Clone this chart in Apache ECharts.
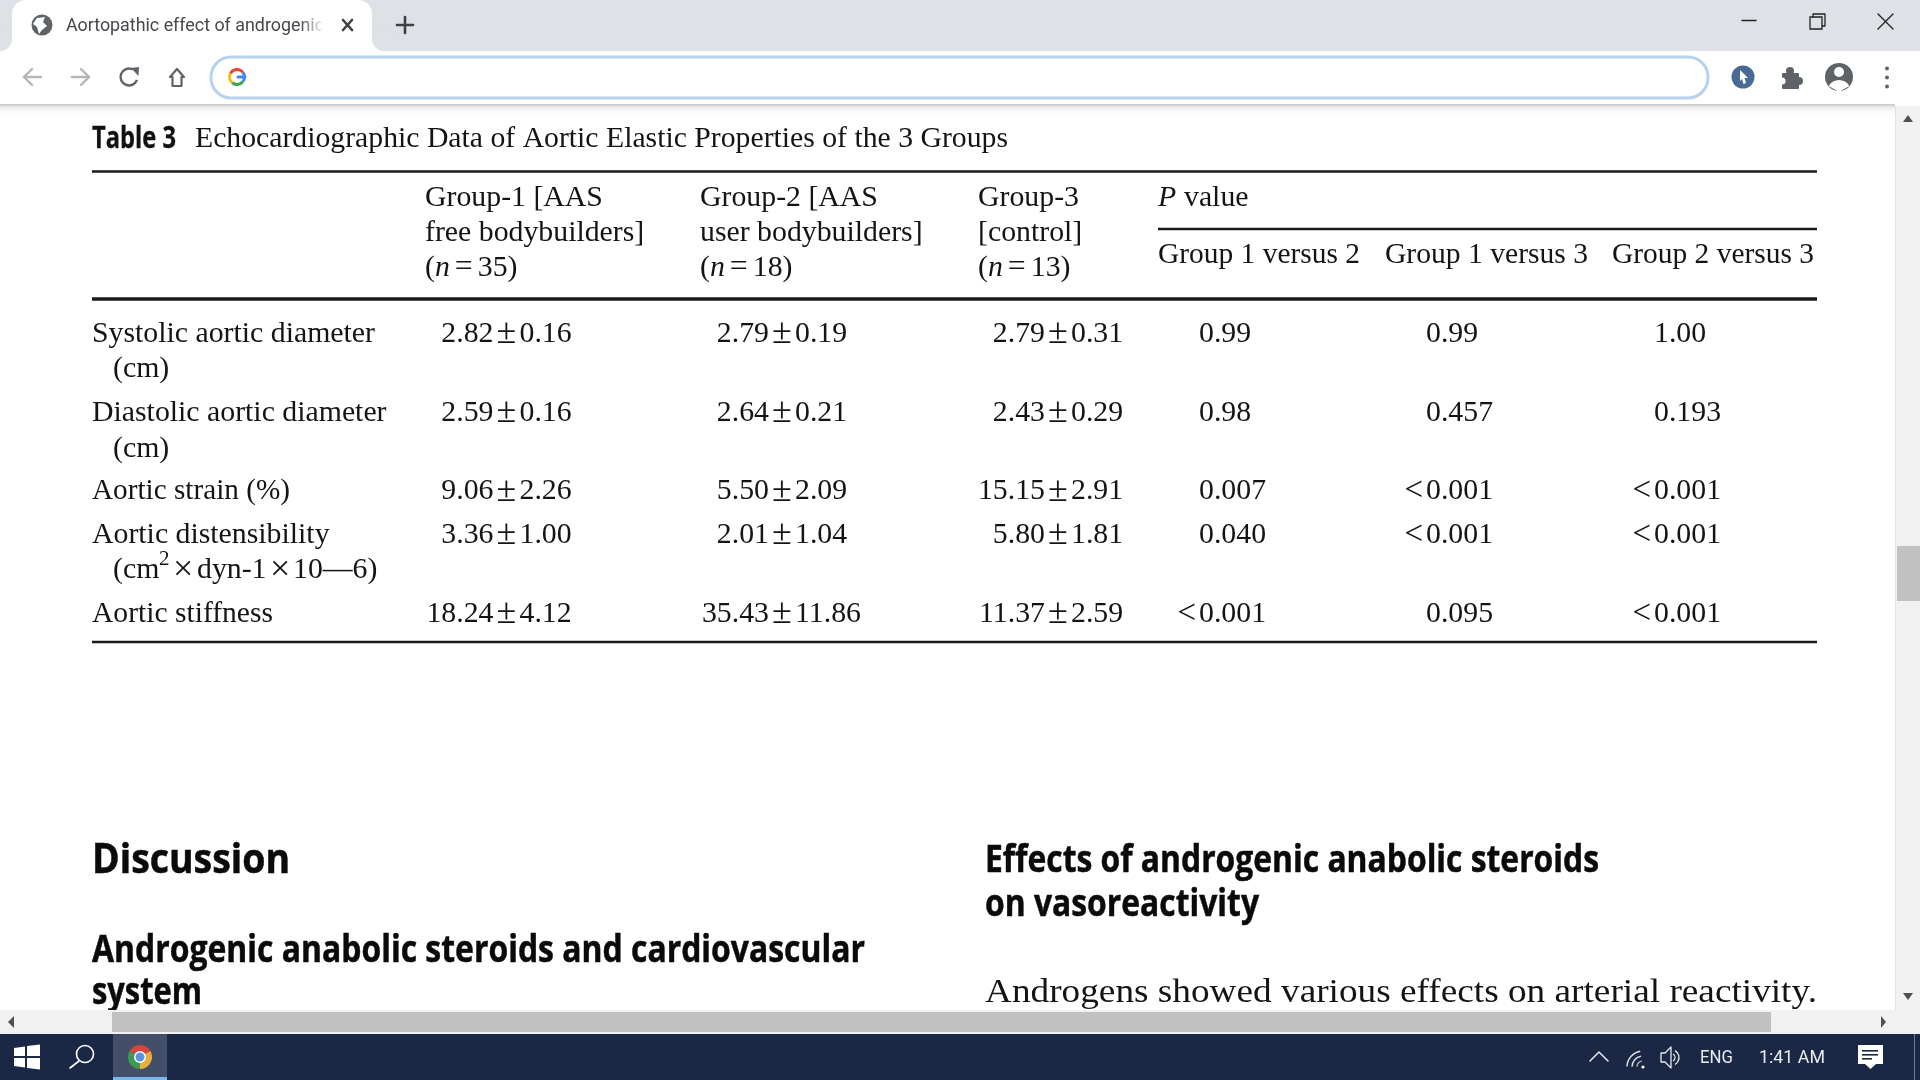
<![CDATA[<!DOCTYPE html>
<html><head><meta charset="utf-8">
<style>html,body{margin:0;padding:0;background:#fff;overflow:hidden}#c{width:1920px;height:1080px}</style>
<script src="https://cdn.jsdelivr.net/npm/echarts@6/dist/echarts.min.js"></script>
</head><body><div id="c"></div>
<script>
// ---- table content ----
const rowLabels = [
  ['Systolic aortic diameter','(cm)'],
  ['Diastolic aortic diameter','(cm)'],
  ['Aortic strain (%)'],
  ['Aortic distensibility',null],
  ['Aortic stiffness']
];
const group1Mean = ['2.82','2.59','9.06','3.36','18.24'];
const group1SD   = ['0.16','0.16','2.26','1.00','4.12'];
const group2Mean = ['2.79','2.64','5.50','2.01','35.43'];
const group2SD   = ['0.19','0.21','2.09','1.04','11.86'];
const group3Mean = ['2.79','2.43','15.15','5.80','11.37'];
const group3SD   = ['0.31','0.29','2.91','1.81','2.59'];
const p12 = ['0.99','0.98','0.007','0.040','<0.001'];
const p13 = ['0.99','0.457','<0.001','<0.001','0.095'];
const p23 = ['1.00','0.193','<0.001','<0.001','<0.001'];
const groupHeads = [
  ['Group-1 [AAS','free bodybuilders]','35'],
  ['Group-2 [AAS','user bodybuilders]','18'],
  ['Group-3','[control]','13']
];
const pHeads = ['Group 1 versus 2','Group 1 versus 3','Group 2 versus 3'];

// ---- layout ----
const SERIF='"Liberation Serif"', SANS='"Open Sans"', UI='Roboto';
const TS=29.8, rowY=[334,413,491.5,535,614], subY=[369.5,449,null,570.5,null];
const labelW=[null,null,198,null,181];
const plusX=[506.5,782,1058], pX=[1199,1426,1654], headX=[425,700,978], pHeadX=[1158,1385,1612];
const cv=document.createElement('canvas').getContext('2d');
function fontStr(o){return `${o.style||'normal'} ${o.weight||'normal'} ${o.size}px ${o.family}`;}
function T(text,x,y,o){
  o=Object.assign({size:TS,family:SERIF,color:'#141414',align:'left'},o||{});
  cv.font=fontStr(o);
  let sx=1; if(o.w){sx=o.w/cv.measureText(text).width;}
  const st={text,x:0,y:0,fill:o.color,font:fontStr(o),textAlign:o.align,textVerticalAlign:'middle',rich:o.rich};
  if(o.heavy){st.stroke=o.color;st.lineWidth=o.heavy;}
  return {type:'text',x,y,scaleX:sx,z:o.z||5,silent:true,style:st};
}
function R(x,y,w,h,fill,z,r){return {type:'rect',z:z||1,silent:true,shape:{x,y,width:w,height:h,r:r||0},style:{fill}};}
function L(pts,color,w,z){return {type:'polyline',z:z||6,silent:true,shape:{points:pts},style:{stroke:color,lineWidth:w,fill:null,lineCap:'round',lineJoin:'round'}};}
function P(pts,fill,z){return {type:'polygon',z:z||6,silent:true,shape:{points:pts},style:{fill}};}
function C(cx,cy,r,fill,z,stroke,lw){return {type:'circle',z:z||6,silent:true,shape:{cx,cy,r},style:{fill:fill||null,stroke:stroke||null,lineWidth:lw||0}};}
function A(cx,cy,r,a0,a1,color,w,z){return {type:'arc',z:z||6,silent:true,shape:{cx,cy,r,startAngle:a0*Math.PI/180,endAngle:a1*Math.PI/180,clockwise:true},style:{stroke:color,lineWidth:w,fill:null}};}
function S(cx,cy,r,a0,a1,fill,z){return {type:'sector',z:z||6,silent:true,shape:{cx,cy,r,r0:0,startAngle:a0*Math.PI/180,endAngle:a1*Math.PI/180},style:{fill}};}

// ---- browser frame & page text ----
const g=[];
g.push(R(0,0,1920,51,'#dee1e6',1));
g.push(R(12,0,360,51,'#fff',2,[14,14,0,0]));
g.push(R(0,39,12,12,'#fff',2)); g.push(C(0,39,12,'#dee1e6',3));
g.push(R(372,39,12,12,'#fff',2)); g.push(C(384,39,12,'#dee1e6',3));
g.push(R(0,51,1920,54,'#ffffff',1));
g.push({type:'rect',z:1,silent:true,shape:{x:0,y:104,width:1895,height:10},style:{fill:{type:'linear',x:0,y:0,x2:0,y2:1,colorStops:[{offset:0,color:'#c4c4c4'},{offset:.35,color:'#eeeeee'},{offset:1,color:'#ffffff'}]}}});
// tab
g.push(C(42,25,10.5,'#5f6368',6));
g.push(P([[37,18],[45,17],[43,22],[47,26],[42,30],[39,34],[37,27],[33,24]],'#ffffff',7));
g.push(T('Aortopathic effect of androgenic',66,26,{size:19,family:UI,color:'#45484c',w:258}));
g.push({type:'rect',z:7,silent:true,shape:{x:300,y:12,width:24,height:26},style:{fill:{type:'linear',x:0,y:0,x2:1,y2:0,colorStops:[{offset:0,color:'rgba(255,255,255,0)'},{offset:1,color:'#fff'}]}}});
g.push(L([[343,20],[352,30]],'#3c4043',2.6)); g.push(L([[352,20],[343,30]],'#3c4043',2.6));
g.push(L([[405,17],[405,33]],'#3c4043',2.6)); g.push(L([[397,25],[413,25]],'#3c4043',2.6));
// window buttons
g.push(L([[1742,20.5],[1756,20.5]],'#222',1.4));
g.push({type:'rect',z:6,silent:true,shape:{x:1810,y:17,width:12,height:12},style:{fill:'#dee1e6',stroke:'#222',lineWidth:1.3}});
g.push(L([[1813,17],[1813,14],[1825,14],[1825,26],[1822,26]],'#222',1.3));
g.push(L([[1878,14],[1893,29]],'#222',1.4)); g.push(L([[1893,14],[1878,29]],'#222',1.4));
// navigation
g.push(L([[24,77],[41,77]],'#b3b6ba',2.4)); g.push(L([[32,69],[24,77],[32,85]],'#b3b6ba',2.4));
g.push(L([[72,77],[89,77]],'#b3b6ba',2.4)); g.push(L([[81,69],[89,77],[81,85]],'#b3b6ba',2.4));
g.push(A(129,77,8.5,20,295,'#5f6368',2.4)); g.push(P([[131,68],[139,67],[138.5,76]],'#5f6368',7));
g.push(L([[170,77],[177,69],[184,77],[181.5,77],[181.5,86],[172.5,86],[172.5,77],[170,77]],'#5f6368',2.2));
// omnibox
g.push({type:'rect',z:2,silent:true,shape:{x:211,y:57,width:1497,height:41,r:20},style:{fill:'#fff',stroke:'#b6d2ef',lineWidth:3}});
g.push(A(237,77,7.5,-40,40,'#4285f4',3)); g.push(A(237,77,7.5,40,130,'#34a853',3));
g.push(A(237,77,7.5,130,210,'#fbbc05',3)); g.push(A(237,77,7.5,210,320,'#ea4335',3));
g.push(L([[238,77],[245,77]],'#4285f4',3));
// right toolbar icons
g.push(C(1743,77,11.5,'#486a95',6)); g.push(P([[1740,70],[1748,78],[1744.5,78],[1746,83],[1743.5,84],[1742,79],[1740,81]],'#fff',7));
g.push(R(1782,73,17,16,'#5f6368',6,1)); g.push(C(1790,71,4,'#5f6368',6)); g.push(C(1799,81,4,'#5f6368',6)); g.push(C(1782,81,3.5,'#fff',7));
g.push(C(1839,77,14,'#5f6368',6)); g.push(C(1839,72,5,'#fff',7));
g.push(S(1839,92,12,-150,-30,'#fff',7));
g.push(C(1887,68.5,2,'#5f6368',6)); g.push(C(1887,77.5,2,'#5f6368',6)); g.push(C(1887,86.5,2,'#5f6368',6));
// page headings & captions
const H={family:SANS,weight:'bold',color:'#0a0a0a',heavy:0.5};
g.push(T('Table 3',92,139,Object.assign({},H,{size:30,w:84,color:'#111',heavy:0.3})));
g.push(T('Echocardiographic Data of Aortic Elastic Properties of the 3 Groups',195,139.5,{w:813}));
g.push(T('Discussion',92,861,Object.assign({},H,{size:41,w:198})));
g.push(T('Androgenic anabolic steroids and cardiovascular',92,951,Object.assign({},H,{size:37,w:773})));
g.push(T('system',92,993.5,Object.assign({},H,{size:37,w:110})));
g.push(T('Effects of androgenic anabolic steroids',985,861,Object.assign({},H,{size:37,w:614})));
g.push(T('on vasoreactivity',985,905,Object.assign({},H,{size:37,w:274})));
g.push(T('Androgens showed various effects on arterial reactivity.',985,993.5,{size:34,color:'#141414',w:832}));
// rules
[[92,1817,171.5,2.6],[1158,1817,229,2.6],[92,1817,299,3.6],[92,1817,642,2.6]].forEach(r=>g.push(R(r[0],r[2]-r[3]/2,r[1]-r[0],r[3],'#1a1a1a',3)));
// scrollbars
g.push(R(1895,106,25,904,'#f1f1f1',20)); g.push(R(1895,106,1,904,'#e2e2e2',21));
g.push(R(1897,546,23,55,'#c1c1c1',21));
g.push(P([[1908,115],[1903,122],[1913,122]],'#505050',22)); g.push(P([[1908,1000],[1903,993],[1913,993]],'#505050',22));
g.push(R(0,1010,1920,24,'#f1f1f1',20)); g.push(R(112,1012,1659,20,'#c1c1c1',21));
g.push(P([[8,1022],[14,1016],[14,1028]],'#505050',22)); g.push(P([[1886,1022],[1881,1016],[1881,1028]],'#505050',22));
g.push(R(1895,1010,25,24,'#f1f1f1',21));
// taskbar
g.push(R(0,1034,1920,46,'#1a2846',23));
g.push(R(113,1034,54,46,'#434f69',24)); g.push(R(113,1077,54,3,'#76b9ed',25));
g.push(P([[14,1048],[25,1046.5],[25,1056],[14,1056]],'#fff',25)); g.push(P([[27,1046],[40,1044.5],[40,1056],[27,1056]],'#fff',25));
g.push(P([[14,1058],[25,1058],[25,1067.5],[14,1066]],'#fff',25)); g.push(P([[27,1058],[40,1058],[40,1069.5],[27,1068]],'#fff',25));
g.push(C(85,1054,8.5,null,25,'#fff',1.6)); g.push(L([[79,1061],[70,1068]],'#fff',1.6,25));
g.push(S(140,1057,12,-150,-30,'#d9453a',25)); g.push(S(140,1057,12,-30,90,'#e5b13a',25)); g.push(S(140,1057,12,90,210,'#3d9a4f',25));
g.push(C(140,1057,6,'#fff',26)); g.push(C(140,1057,4.5,'#5a93e0',27));
g.push(L([[1590,1061],[1599,1052],[1608,1061]],'#e8eaee',1.5,25));
g.push(A(1643,1067,16,-178,-100,'#e0e3e8',1.4,25)); g.push(A(1643,1067,11,-178,-100,'#e0e3e8',1.4,25)); g.push(A(1643,1067,6,-178,-100,'#aeb4bf',1.4,25));
g.push(C(1643,1067,1.6,'#fff',25));
g.push(L([[1661,1053],[1665,1053],[1671,1047],[1671,1068],[1665,1062],[1661,1062],[1661,1053]],'#e8eaee',1.3,25));
g.push(A(1671,1057.5,4,-60,60,'#e8eaee',1.3,25)); g.push(A(1671,1057.5,8,-60,60,'#e8eaee',1.3,25));
g.push(T('ENG',1700,1058,{family:UI,size:19,color:'#e8eaee',w:33,z:25}));
g.push(T('1:41 AM',1759,1058,{family:UI,size:19,color:'#e8eaee',w:66,z:25}));
g.push(R(1858,1045,25,19,'#fff',25)); g.push(P([[1865,1064],[1876,1064],[1870.5,1069]],'#fff',25));
g.push(R(1862,1050,16,1.6,'#1a2846',26)); g.push(R(1862,1054,16,1.6,'#1a2846',26)); g.push(R(1862,1058,10,1.6,'#1a2846',26));
g.push(R(1914,1034,1,46,'#6f7b92',25));

// ---- table cells drawn by a custom series ----
const means=[group1Mean,group2Mean,group3Mean], sds=[group1SD,group2SD,group3SD], ps=[p12,p13,p23];
const rich={i:{font:`italic ${TS}px ${SERIF}`,fill:'#141414'},eq:{font:`${TS+2}px ${SERIF}`,fill:'#141414',padding:[0,5,0,5]}};
function tableElements(){
  const e=[];
  groupHeads.forEach((h,c)=>{
    e.push(T(h[0],headX[c],198)); e.push(T(h[1],headX[c],233));
    e.push(T('({i|n}{eq|=}'+h[2]+')',headX[c],268,{rich}));
  });
  e.push(T('P',1158,198,{style:'italic'})); e.push(T('value',1184,198));
  pHeads.forEach((t,c)=>e.push(T(t,pHeadX[c],255,{w:c==1?203:202})));
  return e;
}
function rowElements(r){
  const e=[], y=rowY[r];
  e.push(T(rowLabels[r][0],92,y,{w:labelW[r]}));
  if(rowLabels[r][1]) e.push(T(rowLabels[r][1],113,subY[r]));
  if(r===3){
    const ys=subY[r];
    e.push(T('(cm',113,ys)); e.push(T('2',159,ys-11,{size:21}));
    e.push(T('\u00d7',173,ys,{size:36})); e.push(T('dyn-1',197,ys));
    e.push(T('\u00d7',270,ys,{size:36})); e.push(T('10\u20146)',293,ys));
  }
  means.forEach((m,c)=>{
    e.push(T(m[r],plusX[c]-13,y,{align:'right'}));
    e.push(T('\u00b1',plusX[c],y,{align:'center',size:36}));
    e.push(T(sds[c][r],plusX[c]+13,y));
  });
  ps.forEach((p,c)=>{
    const v=p[r];
    if(v[0]==='<'){e.push(T('<',pX[c]-3,y,{align:'right',size:33}));e.push(T(v.slice(1),pX[c],y));}
    else e.push(T(v,pX[c],y));
  });
  return e;
}
const chart=echarts.init(document.getElementById('c'),null,{width:1920,height:1080});
chart.setOption({
  animation:false,backgroundColor:'#ffffff',
  graphic:{elements:g},
  series:[{type:'custom',coordinateSystem:'none',silent:true,z:5,
    data:[-1].concat(rowLabels.map((_,i)=>i)),
    renderItem:(p,api)=>{const i=api.value(0);return {type:'group',children:i<0?tableElements():rowElements(i)};}
  }]
});
</script></body></html>]]>
